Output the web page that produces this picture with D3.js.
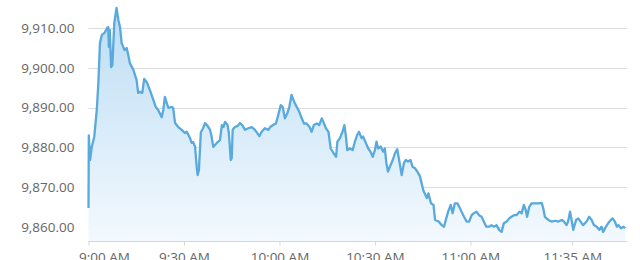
<!DOCTYPE html>
<html>
<head>
<meta charset="utf-8">
<style>
    body { margin: 0; background: #fff; }
    .grid line { stroke: #dcdcdc; stroke-width: 1px; }
    .axis text { fill: #666; font-family: "Open Sans", sans-serif; font-size: 13.5px; }
    .xaxis path, .xaxis line { stroke: #d6d6d6; }
    .priceline { fill: none; stroke: #58a9dc; stroke-width: 2.3px; stroke-linejoin: round; }
</style>
</head>
<body>
<script src="https://cdn.jsdelivr.net/npm/d3@7"></script>
<script>

// minutes after 9:00 AM
var mins = [0, 0.1, 0.5, 1.0, 1.8, 2.6, 3.1, 3.6, 4.2, 5.0, 5.8, 6.2, 6.4, 6.7, 7.1, 7.5, 8.1, 8.8, 9.4, 9.9,
    10.4, 11.3, 12.0, 12.5, 13.0, 14.1, 15.1, 15.6, 16.2, 16.9, 17.5, 18.3, 19.3, 20.4, 21.1, 21.9, 23.0, 23.5, 24.0, 24.6,
    25.1, 26.1, 26.6, 27.2, 28.2, 29.3, 30.3, 30.9, 31.9, 32.4, 32.9, 33.5, 34.0, 34.3, 34.7, 35.3, 36.0, 36.6, 37.4, 38.2,
    38.7, 39.2, 40.3, 41.3, 41.9, 42.4, 42.9, 43.7, 44.1, 44.7, 45.0, 45.3, 46.0, 46.9, 47.6, 48.3, 49.2, 50.2, 51.3, 52.3,
    53.7, 54.4, 55.4, 56.5, 57.2, 58.0, 58.9, 59.6, 60.4, 61.0, 61.7, 62.5, 63.1, 63.8, 64.6, 65.4, 66.2, 67.0, 67.7, 68.5,
    69.4, 70.1, 70.8, 71.7, 72.5, 73.3, 73.8, 74.6, 75.4, 76.1, 77.0, 77.8, 78.2, 79.0, 79.8, 80.4, 80.9, 81.3, 82.1, 83.0,
    83.7, 84.4, 85.0, 85.8, 86.3, 87.2, 87.9, 88.6, 89.3, 90.0, 90.5, 91.0, 91.8, 92.6, 93.1, 93.6, 94.1, 94.7, 95.6, 96.3,
    97.0, 97.6, 98.4, 99.1, 99.7, 100.4, 101.2, 101.8, 102.6, 103.3, 104.1, 105.2, 106.3, 106.8, 107.6, 108.4, 108.9, 110.0, 111.0, 111.7,
    112.4, 113.0, 113.8, 114.4, 115.1, 115.9, 116.5, 117.2, 118.0, 118.8, 119.6, 120.4, 121.1, 121.9, 122.7, 123.5, 124.2, 125.0, 125.9, 126.6,
    127.4, 128.2, 129.0, 129.8, 130.5, 131.4, 132.2, 132.9, 133.7, 134.5, 135.4, 136.1, 136.8, 137.4, 137.8, 138.5, 139.2, 140.3, 141.3, 142.4,
    142.9, 143.4, 144.5, 145.5, 146.6, 147.6, 148.7, 149.4, 150.2, 150.7, 151.3, 151.8, 152.3, 153.2, 153.9, 154.6, 155.4, 156.5, 157.3, 158.1,
    158.8, 159.7, 160.5, 161.2, 161.7, 162.6, 163.3, 164.1, 164.7, 165.4, 166.0, 166.5, 167.3, 168.1, 168.6];

var prices = [9864.7, 9883.0, 9876.8, 9880.0, 9882.6, 9889.4, 9896.2, 9906.3, 9908.3, 9908.8, 9910.0, 9910.3, 9905.3, 9909.5, 9900.2, 9900.7, 9911.3, 9915.1, 9912.0, 9910.3,
    9906.3, 9904.5, 9905.0, 9903.2, 9901.2, 9899.5, 9897.0, 9893.7, 9894.0, 9893.7, 9897.2, 9896.4, 9894.4, 9891.9, 9890.2, 9889.4, 9887.6, 9889.4, 9892.7, 9891.1,
    9889.9, 9890.2, 9889.9, 9886.1, 9885.1, 9884.4, 9883.6, 9883.9, 9882.3, 9881.1, 9881.3, 9880.1, 9875.0, 9873.0, 9874.3, 9883.8, 9884.8, 9886.1, 9885.4, 9884.4,
    9882.6, 9880.1, 9881.1, 9881.8, 9885.6, 9885.1, 9886.4, 9885.6, 9883.6, 9876.8, 9877.3, 9884.4, 9885.1, 9885.4, 9886.1, 9885.6, 9884.4, 9884.8, 9885.1, 9884.4,
    9882.8, 9883.9, 9884.8, 9884.4, 9885.2, 9885.6, 9886.0, 9888.1, 9890.6, 9890.2, 9887.3, 9888.6, 9890.2, 9893.2, 9891.5, 9890.2, 9889.0, 9887.3, 9886.0, 9886.0,
    9885.2, 9883.9, 9885.6, 9886.0, 9885.6, 9887.3, 9886.4, 9884.8, 9883.9, 9879.7, 9878.5, 9877.6, 9881.4, 9882.3, 9883.9, 9885.6, 9882.7, 9879.3, 9879.7, 9879.3,
    9881.4, 9883.1, 9883.9, 9882.3, 9882.7, 9881.0, 9879.7, 9878.9, 9877.6, 9879.3, 9881.4, 9879.7, 9880.2, 9878.9, 9879.7, 9876.0, 9873.9, 9875.1, 9876.8, 9878.5,
    9879.5, 9876.8, 9873.0, 9876.0, 9876.8, 9876.4, 9876.8, 9875.1, 9874.7, 9873.9, 9872.8, 9869.2, 9867.2, 9868.4, 9865.9, 9865.5, 9861.7, 9861.3, 9860.4, 9860.0,
    9862.1, 9863.8, 9865.5, 9863.4, 9865.9, 9865.9, 9865.0, 9863.8, 9862.5, 9861.3, 9861.3, 9862.9, 9863.4, 9863.8, 9862.9, 9862.5, 9861.3, 9860.0, 9860.0, 9860.4,
    9860.0, 9860.4, 9859.2, 9858.7, 9860.9, 9861.3, 9862.1, 9862.5, 9862.9, 9862.9, 9863.8, 9863.4, 9865.5, 9864.2, 9862.5, 9865.0, 9865.9, 9865.9, 9865.9, 9866.0,
    9864.6, 9862.5, 9861.7, 9861.3, 9861.5, 9861.3, 9861.7, 9861.3, 9860.4, 9861.3, 9863.8, 9861.7, 9859.2, 9861.7, 9862.1, 9861.3, 9860.4, 9861.3, 9862.5, 9861.7,
    9860.4, 9860.0, 9859.2, 9860.0, 9858.7, 9860.0, 9860.9, 9861.7, 9862.1, 9861.3, 9860.0, 9860.4, 9859.6, 9860.0, 9859.6];

var yTicks = [9860, 9870, 9880, 9890, 9900, 9910];
var xTickMins = [0, 30, 60, 90, 120, 152];
var xTickLabels = ["9:00 AM", "9:30 AM", "10:00 AM", "10:30 AM", "11:00 AM", "11:35 AM"];

var W = 640, H = 260;
var plotLeft = 88.5, plotRight = 627, plotTop = 0, plotBottom = 241;

var data = mins.map(function(m, i) { return {m: m, v: prices[i]}; });

var x = d3.scaleLinear().domain([0, 169.2]).range([plotLeft, plotRight]);
var y = d3.scaleLinear().domain([9856.4, 9917.1]).range([plotBottom, plotTop]);

var svg = d3.select("body").append("svg")
    .attr("width", W)
    .attr("height", H);

// gradient for area
var grad = svg.append("defs").append("linearGradient")
    .attr("id", "areaGrad")
    .attr("x1", 0).attr("y1", 0).attr("x2", 0).attr("y2", 1);
grad.append("stop").attr("offset", "0%").attr("stop-color", "#bcddf4");
grad.append("stop").attr("offset", "100%").attr("stop-color", "#f3f9fe");

// horizontal grid
svg.append("g").attr("class", "grid")
    .selectAll("line")
    .data(yTicks)
    .enter().append("line")
    .attr("x1", plotLeft).attr("x2", plotRight)
    .attr("y1", function(d) { return Math.round(y(d)) + 0.5; })
    .attr("y2", function(d) { return Math.round(y(d)) + 0.5; });

// area + line
svg.append("path")
    .datum(data)
    .attr("fill", "url(#areaGrad)")
    .attr("d", d3.area()
        .x(function(d) { return x(d.m); })
        .y0(plotBottom)
        .y1(function(d) { return y(d.v); }));

svg.append("path")
    .datum(data)
    .attr("class", "priceline")
    .attr("d", d3.line()
        .x(function(d) { return x(d.m); })
        .y(function(d) { return y(d.v); }));

// y labels
svg.append("g").attr("class", "axis")
    .attr("transform", "translate(" + (plotLeft - 11) + ",0)")
    .call(d3.axisLeft(y).tickValues(yTicks).tickSize(0).tickFormat(d3.format(",.2f")))
    .call(function(g) { g.select(".domain").remove(); });

// x axis
var xAxis = svg.append("g").attr("class", "axis xaxis")
    .attr("transform", "translate(0," + (plotBottom + 0.5) + ")")
    .call(d3.axisBottom(x)
        .tickValues(xTickMins)
        .tickSize(4)
        .tickSizeOuter(0)
        .tickPadding(7)
        .tickFormat(function(d, i) { return xTickLabels[i]; }));
xAxis.select(".domain").attr("d", "M" + plotLeft + ",0H" + plotRight);
// first label sits inside the plot
xAxis.select(".tick text").attr("text-anchor", "start").attr("x", -10);

</script>
</body>
</html>
